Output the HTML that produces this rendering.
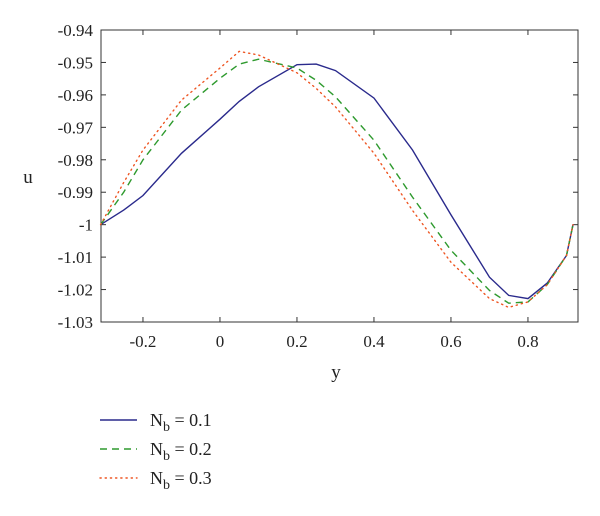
<!DOCTYPE html>
<html><head><meta charset="utf-8"><style>
body{margin:0;background:#fff;width:600px;height:511px;overflow:hidden}
svg text{font-family:"Liberation Serif",serif;fill:#222}
</style></head><body>
<svg id="c" width="600" height="511"></svg>
<script>
const xs=[-0.31,-0.25,-0.2,-0.1,0,0.05,0.1,0.2,0.25,0.3,0.4,0.5,0.6,0.7,0.75,0.8,0.85,0.9,0.917];
const s1=[-1.0,-0.9955,-0.991,-0.978,-0.9675,-0.962,-0.9575,-0.9507,-0.9505,-0.9525,-0.961,-0.977,-0.997,-1.0162,-1.0218,-1.0228,-1.018,-1.0095,-1.0];
const s2=[-1.0,-0.990,-0.980,-0.9647,-0.9549,-0.9505,-0.949,-0.9517,-0.9555,-0.9606,-0.974,-0.9915,-1.0079,-1.0203,-1.0242,-1.0238,-1.0185,-1.0095,-1.0];
const s3=[-1.0,-0.987,-0.977,-0.9616,-0.9517,-0.9466,-0.9477,-0.9532,-0.958,-0.9637,-0.978,-0.9956,-1.0116,-1.0228,-1.0255,-1.0238,-1.0185,-1.0095,-1.0];
const xTicks=[-0.2,0,0.2,0.4,0.6,0.8];
const yTicks=[-0.94,-0.95,-0.96,-0.97,-0.98,-0.99,-1,-1.01,-1.02,-1.03];
const labels=["N","N","N"],vals=["0.1","0.2","0.3"];
const L=101,R=578,T=30,B=322,x0=-0.309,x1=0.93,y0=-1.03,y1=-0.94;
const X=v=>L+(v-x0)/(x1-x0)*(R-L), Y=v=>B-(v-y0)/(y1-y0)*(B-T);
const svg=document.getElementById('c'),NS='http://www.w3.org/2000/svg';
function mk(t,a,p){const e=document.createElementNS(NS,t);for(const k in a)e.setAttribute(k,a[k]);(p||svg).appendChild(e);return e;}
const frame=mk('rect',{x:L,y:T,width:R-L,height:B-T,fill:'none',stroke:'#333','stroke-width':1});


xTicks.forEach(v=>{const x=X(v);
 mk('line',{x1:x,x2:x,y1:B,y2:B-5,stroke:'#333'});mk('line',{x1:x,x2:x,y1:T,y2:T+5,stroke:'#333'});
 const t=mk('text',{x:x,y:B+25,'text-anchor':'middle','font-size':17});t.textContent=String(v);
 
 });
yTicks.forEach(v=>{const y=Y(v);
 mk('line',{x1:L,x2:L+5,y1:y,y2:y,stroke:'#333'});mk('line',{x1:R,x2:R-5,y1:y,y2:y,stroke:'#333'});
 const t=mk('text',{x:L-8,y:y+6,'text-anchor':'end','font-size':17});t.textContent=String(v);
 
 });
const yl=mk('text',{x:28,y:183,'text-anchor':'middle','font-size':19});yl.textContent='u';


const xl=mk('text',{x:336,y:378,'text-anchor':'middle','font-size':19});xl.textContent='y';


const styles=[{c:'#2a2a8c',d:''},{c:'#2e9a2e',d:'7,5'},{c:'#ee5522',d:'1.2,4'}];
[s1,s2,s3].forEach((s,i)=>{
 const p=mk('path',{d:'M'+xs.map((v,j)=>X(v).toFixed(1)+','+Y(s[j]).toFixed(1)).join('L'),fill:'none',stroke:styles[i].c,'stroke-width':1.4,'stroke-dasharray':styles[i].d,'stroke-linecap':i==2?'round':'butt'});
 
 
 const ly=420+i*29;
 const ll=mk('line',{x1:100,x2:137,y1:ly,y2:ly,stroke:styles[i].c,'stroke-width':1.4,'stroke-dasharray':styles[i].d,'stroke-linecap':i==2?'round':'butt'});
 
 
 const t=mk('text',{x:150,y:ly+6,'font-size':18});
 
 
 const a=mk('tspan',{},t);a.textContent=labels[i];
 const b=mk('tspan',{dy:5,'font-size':14},t);b.textContent='b';
 const c=mk('tspan',{dy:-5},t);c.textContent=' = '+vals[i];
});
</script>
</body></html>
